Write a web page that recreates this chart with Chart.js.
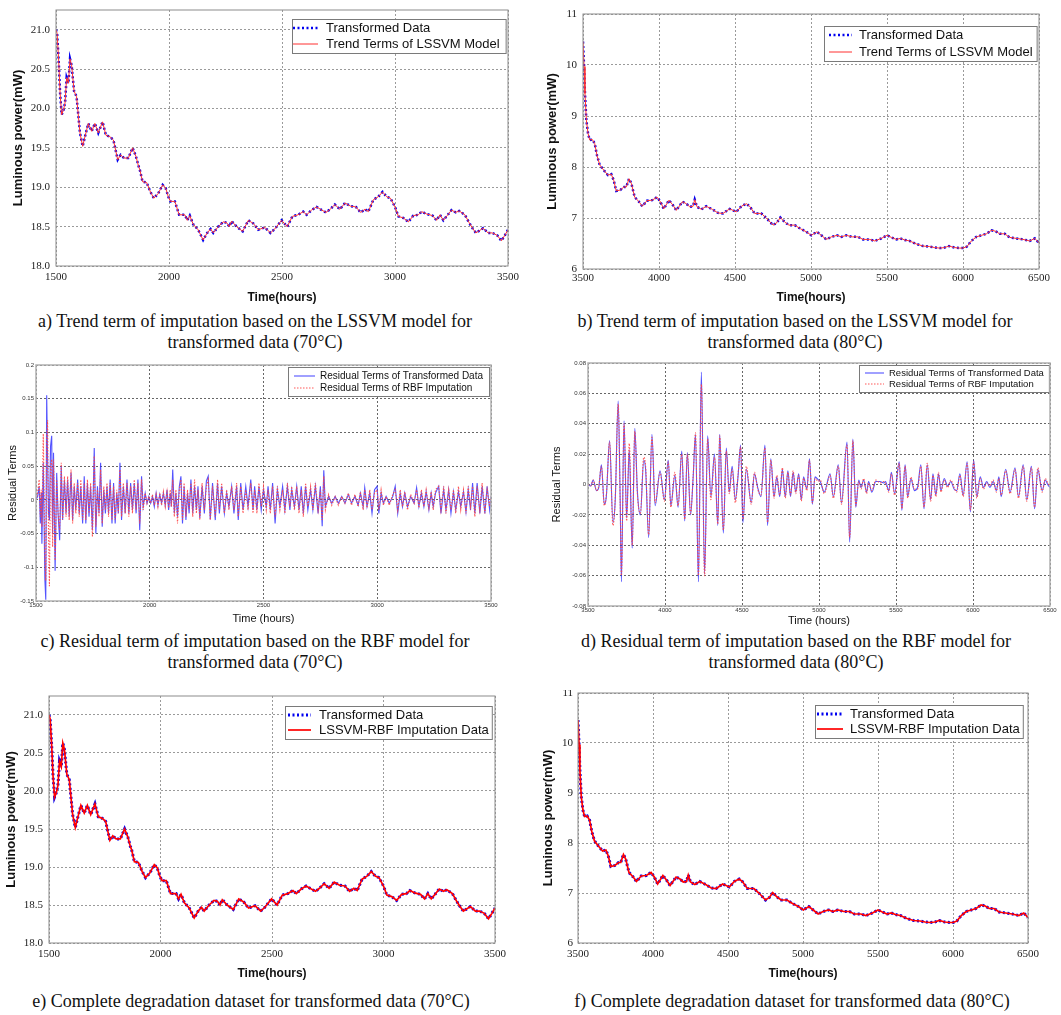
<!DOCTYPE html>
<html>
<head>
<meta charset="utf-8">
<title>Trend and residual imputation</title>
<script src="https://cdn.jsdelivr.net/npm/chart.js@4.4.0/dist/chart.umd.min.js"></script>
<style>
  body { margin: 0; background: #ffffff; width: 1061px; height: 1015px; position: relative; overflow: hidden; }
  canvas { position: absolute; }
  .cap { position: absolute; font-family: 'Liberation Serif', 'Times New Roman', serif; font-size: 18px; color: #111; text-align: center; line-height: 21px; white-space: nowrap; }
</style>
</head>
<body>
<canvas id="chart-a" width="530" height="305" style="left:0;top:0"></canvas>
<canvas id="chart-b" width="531" height="305" style="left:530px;top:0"></canvas>
<canvas id="chart-c" width="530" height="275" style="left:0;top:355px"></canvas>
<canvas id="chart-d" width="531" height="275" style="left:530px;top:355px"></canvas>
<canvas id="chart-e" width="530" height="300" style="left:0;top:690px"></canvas>
<canvas id="chart-f" width="531" height="300" style="left:530px;top:690px"></canvas>

<div class="cap" style="left:0;top:311px;width:510px">a) Trend term of imputation based on the LSSVM model for<br>transformed data (70°C)</div>
<div class="cap" style="left:530px;top:311px;width:530px">b) Trend term of imputation based on the LSSVM model for<br>transformed data (80°C)</div>
<div class="cap" style="left:0;top:631px;width:510px">c) Residual term of imputation based on the RBF model for<br>transformed data (70°C)</div>
<div class="cap" style="left:531px;top:631px;width:530px">d) Residual term of imputation based on the RBF model for<br>transformed data (80°C)</div>
<div class="cap" style="left:0;top:991px;width:502px">e) Complete degradation dataset for transformed data (70°C)</div>
<div class="cap" style="left:532px;top:991px;width:520px">f) Complete degradation dataset for transformed data (80°C)</div>

<script>
'use strict';

// *** Data: 70°C transformed data / trend term (a, e) ***

let hours70 = [
  1500, 1505, 1512, 1518, 1525, 1533, 1540, 1547, 1555, 1562,
  1569, 1580, 1591, 1606, 1618, 1628, 1643, 1658, 1672, 1687,
  1706, 1721, 1739, 1754, 1773, 1786, 1801, 1820, 1839, 1854,
  1864, 1871, 1883, 1901, 1918, 1933, 1952, 1972, 1985, 1997,
  2007, 2026, 2045, 2070, 2081, 2092, 2107, 2129, 2151, 2169,
  2184, 2196, 2218, 2240, 2255, 2267, 2277, 2299, 2326, 2351,
  2373, 2395, 2424, 2449, 2468, 2498, 2523, 2546, 2571, 2594,
  2609, 2631, 2653, 2676, 2695, 2713, 2734, 2756, 2779, 2803,
  2827, 2848, 2867, 2882, 2904, 2926, 2945, 2963, 2980, 3000,
  3015, 3037, 3059, 3081, 3103, 3118, 3140, 3166, 3184, 3199,
  3214, 3231, 3250, 3269, 3284, 3309, 3328, 3343, 3358, 3390,
  3412, 3431, 3452, 3471, 3486, 3500
];
let power70 = [
  21.0, 20.95, 20.6, 20.2, 19.92, 19.98, 20.07, 20.39, 20.32, 20.63,
  20.55, 20.22, 20.15, 19.69, 19.52, 19.64, 19.81, 19.71, 19.81, 19.69,
  19.83, 19.66, 19.64, 19.6, 19.35, 19.41, 19.37, 19.37, 19.5, 19.39,
  19.28, 19.22, 19.07, 19.06, 18.94, 18.86, 18.92, 19.03, 18.99, 18.88,
  18.82, 18.82, 18.65, 18.65, 18.58, 18.64, 18.53, 18.46, 18.33, 18.42,
  18.47, 18.42, 18.5, 18.56, 18.55, 18.5, 18.57, 18.5, 18.44, 18.58,
  18.54, 18.46, 18.49, 18.42, 18.47, 18.58, 18.5, 18.63, 18.65, 18.69,
  18.65, 18.71, 18.75, 18.71, 18.68, 18.72, 18.78, 18.72, 18.8, 18.76,
  18.75, 18.68, 18.72, 18.69, 18.84, 18.88, 18.94, 18.88, 18.86, 18.75,
  18.63, 18.61, 18.56, 18.64, 18.65, 18.69, 18.66, 18.64, 18.58, 18.65,
  18.58, 18.64, 18.71, 18.68, 18.7, 18.65, 18.55, 18.48, 18.42, 18.48,
  18.42, 18.42, 18.39, 18.32, 18.39, 18.46
];

// *** Data: 80°C transformed data / trend term (b, f) ***

let hours80 = [
  3500, 3507, 3513, 3522, 3533, 3544, 3561, 3577, 3592, 3610,
  3636, 3664, 3686, 3702, 3719, 3746, 3770, 3785, 3803, 3818,
  3840, 3868, 3890, 3921, 3956, 3987, 4009, 4031, 4066, 4092,
  4114, 4154, 4180, 4202, 4224, 4235, 4250, 4279, 4311, 4351,
  4388, 4421, 4465, 4509, 4542, 4575, 4596, 4629, 4673, 4706,
  4750, 4776, 4798, 4827, 4855, 4893, 4930, 4969, 5002, 5039,
  5068, 5101, 5134, 5171, 5200, 5232, 5272, 5309, 5342, 5386,
  5419, 5463, 5500, 5529, 5561, 5588, 5616, 5649, 5693, 5737,
  5781, 5814, 5846, 5879, 5908, 5945, 5978, 6000, 6026, 6055,
  6088, 6121, 6154, 6187, 6215, 6241, 6274, 6307, 6351, 6395,
  6439, 6472, 6500
];
let power80 = [
  10.46, 9.97, 9.44, 8.92, 8.66, 8.53, 8.54, 8.46, 8.23, 8.04,
  7.94, 7.84, 7.86, 7.74, 7.53, 7.55, 7.61, 7.61, 7.77, 7.68,
  7.41, 7.32, 7.23, 7.34, 7.35, 7.41, 7.32, 7.18, 7.35, 7.25,
  7.15, 7.32, 7.28, 7.22, 7.23, 7.36, 7.22, 7.17, 7.23, 7.17,
  7.1, 7.09, 7.18, 7.12, 7.23, 7.28, 7.23, 7.09, 7.09, 7.0,
  6.86, 6.91, 7.01, 6.92, 6.86, 6.86, 6.79, 6.73, 6.66, 6.73,
  6.66, 6.58, 6.63, 6.66, 6.63, 6.66, 6.63, 6.63, 6.58, 6.58,
  6.55, 6.6, 6.66, 6.62, 6.58, 6.6, 6.57, 6.55, 6.49, 6.45,
  6.44, 6.42, 6.41, 6.42, 6.45, 6.42, 6.41, 6.41, 6.44, 6.55,
  6.63, 6.66, 6.69, 6.76, 6.74, 6.69, 6.69, 6.62, 6.6, 6.58,
  6.55, 6.6, 6.51
];

// *** Data: residual terms 70°C (c) ***

let residHours70 = [
  1500, 1507, 1514, 1519, 1523, 1526, 1532, 1539, 1543, 1547,
  1551, 1555, 1559, 1564, 1569, 1573, 1577, 1584, 1591, 1597,
  1604, 1611, 1617, 1625, 1632, 1639, 1646, 1654, 1661, 1668,
  1675, 1683, 1690, 1697, 1705, 1712, 1719, 1726, 1733, 1740,
  1748, 1756, 1763, 1770, 1777, 1784, 1791, 1798, 1805, 1812,
  1819, 1826, 1834, 1841, 1848, 1855, 1862, 1869, 1876, 1884,
  1892, 1900, 1908, 1916, 1924, 1932, 1940, 1948, 1956, 1964,
  1971, 1980, 1988, 1996, 2004, 2012, 2020, 2028, 2036, 2044,
  2052, 2060, 2068, 2076, 2083, 2090, 2095, 2101, 2108, 2115,
  2122, 2130, 2137, 2144, 2151, 2159, 2166, 2173, 2181, 2189,
  2197, 2205, 2212, 2220, 2230, 2240, 2249, 2257, 2266, 2276,
  2288, 2298, 2306, 2316, 2328, 2338, 2348, 2360, 2370, 2382,
  2389, 2400, 2410, 2422, 2432, 2444, 2454, 2461, 2471, 2480,
  2490, 2500, 2512, 2520, 2530, 2540, 2551, 2561, 2572, 2584,
  2594, 2605, 2616, 2624, 2636, 2646, 2656, 2666, 2675, 2685,
  2695, 2707, 2717, 2728, 2740, 2750, 2758, 2765, 2772, 2786,
  2800, 2815, 2829, 2844, 2858, 2873, 2887, 2902, 2916, 2926,
  2938, 2945, 2955, 2967, 2977, 2988, 2999, 3007, 3017, 3027,
  3039, 3053, 3068, 3079, 3090, 3101, 3111, 3121, 3133, 3147,
  3162, 3173, 3183, 3194, 3205, 3215, 3227, 3237, 3246, 3256,
  3270, 3280, 3292, 3302, 3314, 3324, 3335, 3345, 3357, 3367,
  3379, 3390, 3400, 3410, 3419, 3429, 3439, 3451, 3461, 3473,
  3483, 3494, 3500
];
let residData70 = [
  0, 0.005, 0.02, -0.035, 0.01, -0.065, 0.055, -0.118, -0.148, 0.155,
  0.06, -0.02, -0.03, 0.08, 0.095, -0.05, 0.07, -0.105, 0.04, -0.02,
  -0.06, 0.05, -0.03, 0.03, -0.02, 0.03, -0.025, 0.04, -0.03, 0.02,
  -0.015, 0.03, -0.02, 0.02, -0.035, 0.035, -0.035, 0.025, -0.025, 0.02,
  -0.045, 0.077, -0.05, 0.02, -0.02, 0.055, -0.04, 0.015, -0.02, 0.02,
  -0.02, 0.03, -0.035, 0.025, -0.035, 0.01, -0.02, 0.055, -0.03, 0.02,
  -0.02, 0.03, -0.02, 0.025, -0.015, 0.025, -0.02, 0.03, -0.045, 0.035,
  -0.01, 0.01, -0.005, 0.005, -0.005, 0.005, -0.01, 0.01, -0.008, 0.008,
  -0.005, 0.01, -0.008, 0.015, -0.015, 0.01, -0.01, 0.045, -0.02, 0.01,
  -0.025, 0.02, 0.035, -0.035, 0.02, -0.03, 0.01, -0.02, 0.03, -0.02,
  0.02, -0.015, 0.02, -0.027, 0.02, -0.02, 0.028, 0.035, -0.029, 0.025,
  -0.03, 0.025, -0.02, 0.02, -0.02, 0.01, -0.01, 0.02, -0.02, 0.02,
  -0.03, 0.025, -0.015, 0.02, -0.01, 0.03, -0.015, 0.02, -0.015, 0.02,
  -0.015, 0.015, -0.01, 0.02, -0.015, 0.025, -0.035, 0.015, -0.01, 0.02,
  -0.015, 0.02, -0.015, 0.015, -0.01, 0.02, -0.015, 0.02, -0.02, 0.02,
  -0.015, 0.015, -0.015, 0.02, -0.02, 0.02, -0.039, 0.044, -0.01, 0.005,
  -0.005, 0.005, -0.005, 0.005, -0.005, 0.008, -0.005, 0.005, -0.008, 0.01,
  -0.01, 0.018, -0.01, 0.01, -0.02, 0.015, 0.02, -0.02, 0.01, -0.005,
  0.005, -0.005, 0.005, 0.02, -0.02, 0.01, -0.01, 0.01, -0.01, 0.005,
  -0.005, 0.018, -0.01, 0.01, -0.01, 0.012, -0.015, 0.01, -0.01, 0.01,
  0.02, -0.02, 0.015, -0.015, 0.015, -0.02, 0.012, -0.015, 0.012, -0.01,
  0.012, -0.018, 0.015, -0.015, 0.025, -0.02, 0.025, -0.02, 0.02, -0.02,
  0.02, -0.015, 0.005
];
let residRbf70 = [
  0, 0.01, 0.03, -0.025, 0.015, -0.04, 0.098, -0.085, -0.12, 0.09,
  0.118, -0.05, -0.128, 0.05, 0.06, -0.07, 0.06, -0.09, 0.03, -0.02,
  -0.045, 0.055, -0.03, 0.035, -0.025, 0.035, -0.03, 0.045, -0.035, 0.025,
  -0.02, 0.025, -0.025, 0.03, -0.03, 0.025, -0.03, 0.03, -0.02, 0.025,
  -0.055, 0.065, -0.04, 0.015, -0.025, 0.045, -0.035, 0.02, -0.015, 0.025,
  -0.025, 0.025, -0.03, 0.02, -0.03, 0.015, -0.02, 0.045, -0.025, 0.025,
  -0.02, 0.025, -0.025, 0.02, -0.02, 0.03, -0.015, 0.025, -0.035, 0.03,
  -0.015, 0.01, -0.005, 0.005, -0.005, 0.008, -0.008, 0.008, -0.01, 0.01,
  -0.008, 0.012, -0.01, 0.012, -0.012, 0.015, -0.01, 0.03, -0.025, 0.015,
  -0.035, 0.015, 0.03, -0.03, 0.025, -0.025, 0.015, -0.015, 0.025, -0.025,
  0.03, -0.02, 0.015, -0.03, 0.025, -0.015, 0.02, 0.03, -0.03, 0.02,
  -0.025, 0.03, -0.015, 0.025, -0.02, 0.015, -0.015, 0.02, -0.015, 0.025,
  -0.025, 0.02, -0.02, 0.015, -0.015, 0.025, -0.02, 0.015, -0.02, 0.025,
  -0.01, 0.02, -0.015, 0.015, -0.02, 0.02, -0.025, 0.02, -0.015, 0.015,
  -0.02, 0.025, -0.01, 0.02, -0.015, 0.02, -0.02, 0.015, -0.025, 0.025,
  -0.01, 0.02, -0.015, 0.025, -0.015, 0.015, -0.03, 0.035, -0.015, 0.008,
  -0.008, 0.005, -0.008, 0.005, -0.005, 0.01, -0.008, 0.008, -0.01, 0.012,
  -0.015, 0.015, -0.012, 0.015, -0.015, 0.01, 0.015, -0.015, 0.015, -0.008,
  0.005, -0.008, 0.008, 0.015, -0.015, 0.015, -0.01, 0.012, -0.015, 0.008,
  -0.005, 0.015, -0.012, 0.015, -0.01, 0.015, -0.012, 0.012, -0.015, 0.015,
  0.02, -0.015, 0.02, -0.02, 0.015, -0.015, 0.015, -0.02, 0.02, -0.015,
  0.015, -0.02, 0.02, -0.01, 0.02, -0.025, 0.02, -0.015, 0.025, -0.02,
  0.015, -0.01, 0.005
];

// *** Data: residual terms 80°C (d) ***

let residHours80 = [
  3500, 3517, 3534, 3555, 3570, 3587, 3606, 3619, 3640, 3662,
  3677, 3696, 3709, 3717, 3734, 3751, 3768, 3787, 3804, 3821,
  3840, 3862, 3874, 3894, 3915, 3936, 3968, 3996, 4021, 4038,
  4064, 4085, 4109, 4128, 4145, 4166, 4183, 4198, 4217, 4236,
  4257, 4277, 4298, 4321, 4343, 4355, 4379, 4398, 4417, 4436,
  4457, 4474, 4491, 4506, 4528, 4560, 4581, 4602, 4623, 4649,
  4666, 4687, 4708, 4726, 4745, 4762, 4781, 4798, 4815, 4832,
  4849, 4868, 4885, 4900, 4921, 4938, 4957, 4974, 4996, 5008,
  5034, 5072, 5093, 5125, 5146, 5182, 5199, 5220, 5239, 5258,
  5273, 5290, 5309, 5322, 5343, 5369, 5396, 5422, 5432, 5453,
  5470, 5491, 5521, 5538, 5559, 5576, 5597, 5619, 5640, 5661,
  5682, 5703, 5725, 5740, 5759, 5776, 5792, 5813, 5835, 5856,
  5877, 5894, 5915, 5936, 5962, 5983, 6004, 6025, 6047, 6068,
  6089, 6110, 6131, 6152, 6168, 6183, 6212, 6241, 6273, 6295,
  6326, 6349, 6379, 6400, 6421, 6449, 6470, 6485, 6500
];
let residData80 = [
  0, -0.001, 0.003, -0.004, -0.002, 0.013, -0.013, -0.008, 0.029, -0.025,
  -0.01, 0.055, -0.01, -0.064, 0.042, -0.022, 0.023, -0.042, 0.037, -0.005,
  -0.02, 0.016, 0.01, -0.035, 0.033, -0.014, 0.009, -0.01, 0.016, -0.014,
  0.006, -0.015, 0.022, -0.024, 0.021, -0.02, 0.005, 0.033, -0.064, 0.074,
  -0.059, 0.032, -0.008, 0.02, -0.027, 0.033, -0.032, 0.024, -0.005, 0.012,
  -0.01, 0.005, 0.026, -0.025, 0.01, -0.012, 0.007, -0.002, -0.008, 0.026,
  -0.027, 0.017, -0.008, 0.005, -0.008, 0.01, -0.008, 0.009, -0.008, 0.008,
  -0.005, 0.007, -0.01, 0.005, -0.003, 0.017, -0.013, 0.005, 0.003, 0.002,
  -0.005, 0.007, -0.008, 0.013, -0.012, 0.028, -0.038, 0.03, -0.015, 0.003,
  -0.002, 0.003, -0.005, 0.002, -0.005, 0.002, 0.002, 0.001, 0.002, -0.004,
  0.008, -0.006, 0.015, -0.017, 0.013, -0.008, 0.004, -0.004, -0.002, 0.013,
  -0.016, 0.013, -0.01, 0.007, -0.007, 0.007, -0.004, 0.004, -0.001, 0.002,
  -0.003, -0.004, 0.007, -0.007, 0.015, -0.018, 0.016, -0.008, 0.005, -0.002,
  0.002, -0.002, 0.002, -0.004, 0.005, -0.008, 0.01, -0.005, 0.011, -0.008,
  0.013, -0.01, 0.012, -0.016, 0.01, -0.004, 0.003, 0, -0.002
];
let residRbf80 = [
  0, -0.001, 0.003, -0.004, -0.001, 0.012, -0.014, -0.007, 0.028, -0.027,
  -0.009, 0.053, -0.012, -0.06, 0.04, -0.024, 0.027, -0.04, 0.035, -0.007,
  -0.019, 0.018, 0.012, -0.033, 0.031, -0.012, 0.008, -0.011, 0.015, -0.015,
  0.008, -0.014, 0.02, -0.023, 0.02, -0.019, 0.006, 0.034, -0.06, 0.066,
  -0.06, 0.03, -0.01, 0.018, -0.026, 0.032, -0.03, 0.022, -0.006, 0.01,
  -0.012, 0.006, 0.025, -0.023, 0.012, -0.013, 0.008, -0.003, -0.007, 0.024,
  -0.025, 0.016, -0.009, 0.006, -0.007, 0.011, -0.009, 0.008, -0.007, 0.009,
  -0.006, 0.006, -0.011, 0.004, -0.004, 0.016, -0.012, 0.004, 0.002, 0.003,
  -0.006, 0.006, -0.009, 0.012, -0.013, 0.026, -0.035, 0.029, -0.014, 0.002,
  -0.003, 0.004, -0.006, 0.001, -0.004, 0.003, 0.001, 0.002, 0.001, -0.005,
  0.007, -0.007, 0.014, -0.016, 0.012, -0.009, 0.005, -0.003, -0.003, 0.012,
  -0.015, 0.014, -0.011, 0.006, -0.008, 0.008, -0.005, 0.003, -0.002, 0.003,
  -0.002, -0.005, 0.006, -0.008, 0.014, -0.017, 0.015, -0.009, 0.004, -0.003,
  0.001, -0.001, 0.003, -0.005, 0.004, -0.007, 0.009, -0.006, 0.01, -0.009,
  0.012, -0.011, 0.011, -0.015, 0.011, -0.005, 0.004, 0.001, -0.001
];

// *** Tick labels ***

let timeTicks70 = [1500, 2000, 2500, 3000, 3500];
let timeTicks80 = [3500, 4000, 4500, 5000, 5500, 6000, 6500];
let powerTicks70 = [18.0, 18.5, 19.0, 19.5, 20.0, 20.5, 21.0];
let powerTicks80 = [6, 7, 8, 9, 10, 11];
let residTicks70 = [-0.15, -0.1, -0.05, 0, 0.05, 0.1, 0.15, 0.2];
let residTicks80 = [-0.08, -0.06, -0.04, -0.02, 0, 0.02, 0.04, 0.06, 0.08];

// *** Fonts and colours ***

let sansFamily = "'Liberation Sans', Arial, sans-serif";
let serifFamily = "'Liberation Serif', 'Times New Roman', serif";
let dataBlue = '#0000f0';

// *** Helper Functions ***

function pointsOf(hours, values) {
  let points = [];
  for (let i = 0; i < hours.length; i++) {
    points.push({x: hours[i], y: values[i]});
  }
  return points;
}

function fixedLabel(digits) {
  return function (value) {
    if (Math.abs(value) < 1e-9) {
      return digits === 1 ? '0.0' : '0';
    }
    return digits ? value.toFixed(digits) : String(value);
  };
}

// *** Plugins ***

// box round the plot area, like the matlab frame
let framePlugin = {
  id: 'frame',
  afterDraw(chart, args, opts) {
    let area = chart.chartArea;
    let ctx = chart.ctx;
    ctx.save();
    ctx.strokeStyle = opts.color;
    ctx.lineWidth = opts.width;
    ctx.strokeRect(area.left, area.top, area.right - area.left, area.bottom - area.top);
    ctx.restore();
  }
};

// legend drawn inside the plot, top right, with a border
let boxLegendPlugin = {
  id: 'boxLegend',
  afterDatasetsDraw(chart, args, opts) {
    if (!opts || !opts.textFont) {
      return;
    }
    let ctx = chart.ctx;
    let area = chart.chartArea;
    let sets = chart.data.datasets;
    ctx.save();
    ctx.font = opts.textFont;
    let textWidth = 0;
    sets.forEach(function (ds) {
      textWidth = Math.max(textWidth, ctx.measureText(ds.label).width);
    });
    let boxWidth = opts.padLeft + opts.sample + opts.gap + textWidth + opts.padRight;
    let left = Math.round(area.right - opts.right - boxWidth);
    let top = Math.round(area.top + opts.top);
    ctx.fillStyle = '#ffffff';
    ctx.fillRect(left, top, boxWidth, opts.height);
    ctx.strokeStyle = opts.borderColor;
    ctx.lineWidth = opts.borderWidth;
    ctx.strokeRect(left + 0.5, top + 0.5, boxWidth, opts.height);
    sets.forEach(function (ds, i) {
      let y = top + opts.firstRow + i * opts.rowHeight;
      ctx.beginPath();
      ctx.setLineDash(ds.borderDash || []);
      ctx.strokeStyle = ds.borderColor;
      ctx.lineWidth = ds.borderWidth;
      ctx.moveTo(left + opts.padLeft, y);
      ctx.lineTo(left + opts.padLeft + opts.sample, y);
      ctx.stroke();
      ctx.setLineDash([]);
      ctx.fillStyle = '#111111';
      ctx.textBaseline = 'middle';
      ctx.fillText(ds.label, left + opts.padLeft + opts.sample + opts.gap, y + 0.5);
    });
    ctx.restore();
  }
};

// *** Chart builder ***

function buildChart(id, s) {
  return new Chart(document.getElementById(id), {
    type: 'line',
    data: {datasets: s.datasets},
    options: {
      responsive: false,
      animation: false,
      devicePixelRatio: 1,
      events: [],
      layout: {padding: {left: 0, right: s.padRight, top: s.padTop, bottom: 0}},
      elements: {point: {radius: 0}},
      plugins: {
        legend: {display: false},
        tooltip: {enabled: false},
        frame: {color: s.frameColor, width: s.frameWidth},
        boxLegend: s.legend
      },
      scales: {
        x: {
          type: 'linear',
          min: s.xRange[0],
          max: s.xRange[1],
          afterBuildTicks: function (scale) {
            scale.ticks = s.xTicks.map(function (v) { return {value: v}; });
          },
          afterFit: function (scale) {
            scale.height = s.xHeight;
            scale.paddingLeft = 0;
            scale.paddingRight = 0;
          },
          ticks: {
            font: s.tickFont, color: s.tickColor, padding: s.xTickPad,
            maxRotation: 0, autoSkip: false,
            callback: function (value) { return String(value); }
          },
          grid: {color: s.gridColor, lineWidth: 1, drawTicks: false},
          border: {display: false, dash: [2, 2]},
          title: {
            display: true, text: s.xTitle, font: s.xTitleFont, color: '#111111',
            padding: {top: 0, bottom: s.xTitlePad}
          }
        },
        y: {
          type: 'linear',
          min: s.yRange[0],
          max: s.yRange[1],
          afterBuildTicks: function (scale) {
            scale.ticks = s.yTicks.map(function (v) { return {value: v}; });
          },
          afterFit: function (scale) {
            scale.width = s.yWidth;
            scale.paddingTop = 0;
            scale.paddingBottom = 0;
          },
          ticks: {
            font: s.tickFont, color: s.tickColor, padding: s.yTickPad,
            autoSkip: false, callback: s.yFormat
          },
          grid: {color: s.gridColor, lineWidth: 1, drawTicks: false},
          border: {display: false, dash: [2, 2]},
          title: {
            display: true, text: s.yTitle, font: s.yTitleFont, color: '#111111',
            padding: {top: s.yTitlePad, bottom: 0}
          }
        }
      }
    },
    plugins: [framePlugin, boxLegendPlugin]
  });
}

// *** Dataset styles ***

function transformedSet(hours, values, width, order) {
  return {
    label: 'Transformed Data',
    data: pointsOf(hours, values),
    borderColor: dataBlue,
    borderWidth: width,
    borderDash: [2, 2.5],
    fill: false,
    tension: 0,
    order: order
  };
}

function redLineSet(label, hours, values, width, order) {
  return {
    label: label,
    data: pointsOf(hours, values),
    borderColor: width > 1.5 ? '#ff0000' : '#ff3030',
    borderWidth: width,
    fill: false,
    tension: 0,
    order: order
  };
}

function residualSets(hours, dataValues, rbfValues, smooth) {
  let mode = smooth ? 'monotone' : 'default';
  return [
    {
      label: 'Residual Terms of Transformed Data',
      data: pointsOf(hours, dataValues),
      borderColor: 'rgba(40, 40, 255, 0.8)',
      borderWidth: 1.1,
      fill: false,
      tension: 0,
      cubicInterpolationMode: mode,
      order: 1
    },
    {
      label: 'Residual Terms of RBF Imputation',
      data: pointsOf(hours, rbfValues),
      borderColor: 'rgba(255, 70, 70, 0.9)',
      borderWidth: 1.1,
      borderDash: [1.5, 1.5],
      fill: false,
      tension: 0,
      cubicInterpolationMode: mode,
      order: 0
    }
  ];
}

// *** Shared panel settings ***

let trendLook = {
  tickFont: {family: serifFamily, size: 11},
  tickColor: '#222222',
  gridColor: '#9a9a9a',
  frameColor: '#8c8c8c',
  frameWidth: 1,
  xTitle: 'Time(hours)',
  yTitle: 'Luminous power(mW)',
  xTitleFont: {family: sansFamily, size: 12, weight: 'bold'},
  yTitleFont: {family: sansFamily, size: 13, weight: 'bold'}
};

let residualLook = {
  tickFont: {family: sansFamily, size: 6},
  tickColor: '#333333',
  gridColor: '#666666',
  frameColor: '#b0b0b0',
  frameWidth: 1.5,
  xTitle: 'Time (hours)',
  yTitle: 'Residual Terms',
  xTitleFont: {family: sansFamily, size: 11},
  yTitleFont: {family: sansFamily, size: 11}
};

function legendLook(size, extra) {
  return Object.assign({
    textFont: size + 'px ' + sansFamily,
    borderColor: '#7a7a7a',
    borderWidth: 1
  }, extra);
}

// *** Executable Code ***

// a) trend term 70°C
buildChart('chart-a', Object.assign({}, trendLook, {
  datasets: [
    transformedSet(hours70, power70, 2.5, 1),
    redLineSet('Trend Terms of LSSVM Model', hours70, power70, 1, 0)
  ],
  xRange: [1500, 3500], yRange: [18, 21.25],
  xTicks: timeTicks70, yTicks: powerTicks70, yFormat: fixedLabel(1),
  padRight: 22, padTop: 10, yWidth: 56, xHeight: 39,
  xTickPad: 5, yTickPad: 6, xTitlePad: 0, yTitlePad: 11,
  legend: legendLook(13, {right: 2, top: 9, height: 34, padLeft: 1, sample: 25, gap: 8, padRight: 6, firstRow: 9, rowHeight: 16})
}));

// b) trend term 80°C
buildChart('chart-b', Object.assign({}, trendLook, {
  datasets: [
    transformedSet(hours80, power80, 2.5, 1),
    redLineSet('Trend Terms of LSSVM Model', hours80, power80, 1, 0)
  ],
  xRange: [3500, 6500], yRange: [6, 11],
  xTicks: timeTicks80, yTicks: powerTicks80, yFormat: fixedLabel(0),
  padRight: 22, padTop: 14, yWidth: 53, xHeight: 36,
  xTickPad: 3, yTickPad: 6, xTitlePad: 0, yTitlePad: 15,
  legend: legendLook(13, {right: 2, top: 12, height: 35, padLeft: 5, sample: 23, gap: 7, padRight: 4, firstRow: 9, rowHeight: 17})
}));

// c) residual term 70°C
buildChart('chart-c', Object.assign({}, residualLook, {
  datasets: residualSets(residHours70, residData70, residRbf70, false),
  xRange: [1500, 3500], yRange: [-0.15, 0.2],
  xTicks: timeTicks70, yTicks: residTicks70, yFormat: fixedLabel(0),
  padRight: 39, padTop: 10, yWidth: 36, xHeight: 29,
  xTickPad: 1, yTickPad: 2, xTitlePad: 4, yTitlePad: 6,
  legend: legendLook(10, {right: 2, top: 2, height: 29, padLeft: 6, sample: 21, gap: 5, padRight: 6, firstRow: 9, rowHeight: 12})
}));

// d) residual term 80°C
buildChart('chart-d', Object.assign({}, residualLook, {
  datasets: residualSets(residHours80, residData80, residRbf80, true),
  xRange: [3500, 6500], yRange: [-0.08, 0.08],
  xTicks: timeTicks80, yTicks: residTicks80, yFormat: fixedLabel(2),
  padRight: 11, padTop: 8, yWidth: 58, xHeight: 24,
  xTickPad: 1, yTickPad: 2, xTitlePad: 2, yTitlePad: 20,
  legend: legendLook(9.5, {right: 1, top: 2, height: 27, padLeft: 6, sample: 19, gap: 5, padRight: 5, firstRow: 8, rowHeight: 11})
}));

// e) complete dataset 70°C
buildChart('chart-e', Object.assign({}, trendLook, {
  datasets: [
    transformedSet(hours70, power70, 3, 1),
    redLineSet('LSSVM-RBF Imputation Data', hours70, power70, 1.7, 0)
  ],
  xRange: [1500, 3500], yRange: [18, 21.25],
  xTicks: timeTicks70, yTicks: powerTicks70, yFormat: fixedLabel(1),
  padRight: 35, padTop: 6, yWidth: 49, xHeight: 47,
  xTickPad: 5, yTickPad: 6, xTitlePad: 9, yTitlePad: 4,
  legend: legendLook(13, {right: 3, top: 10, height: 33, padLeft: 3, sample: 23, gap: 8, padRight: 3, firstRow: 9, rowHeight: 15})
}));

// f) complete dataset 80°C
buildChart('chart-f', Object.assign({}, trendLook, {
  datasets: [
    transformedSet(hours80, power80, 3, 1),
    redLineSet('LSSVM-RBF Imputation Data', hours80, power80, 1.7, 0)
  ],
  xRange: [3500, 6500], yRange: [6, 11],
  xTicks: timeTicks80, yTicks: powerTicks80, yFormat: fixedLabel(0),
  padRight: 33, padTop: 3, yWidth: 48, xHeight: 47,
  xTickPad: 5, yTickPad: 5, xTitlePad: 9, yTitlePad: 11,
  legend: legendLook(13, {right: 5, top: 12, height: 33, padLeft: 2, sample: 26, gap: 7, padRight: 3, firstRow: 9, rowHeight: 15})
}));
</script>
</body>
</html>
